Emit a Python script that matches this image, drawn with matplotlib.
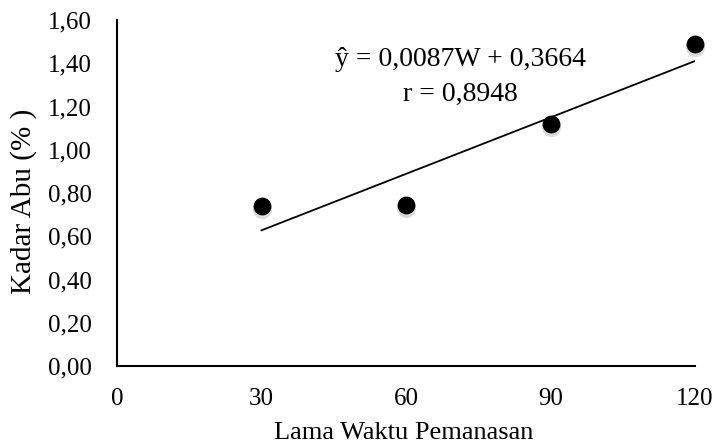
import matplotlib
matplotlib.use("Agg")
import matplotlib.pyplot as plt
import matplotlib.transforms as mtransforms
import numpy as np

plt.rcParams['font.family'] = ['Liberation Serif', 'DejaVu Serif']

# Heating time (minutes) and ash content (%)
waktu = [30, 60, 90, 120]
kadar_abu = [0.74, 0.745, 1.12, 1.49]

# Linear regression reported on the chart
slope = 0.0087
intercept = 0.3664
r_value = 0.8948

x_ticks = [0, 30, 60, 90, 120]
y_ticks = [0.0, 0.2, 0.4, 0.6, 0.8, 1.0, 1.2, 1.4, 1.6]

fig = plt.figure(figsize=(7.19, 4.48), dpi=100)
ax = fig.add_axes([117 / 719, 82 / 448, (695 - 117) / 719, (366 - 20) / 448])

# soft drop shadow under the markers
shadow = ax.transData + mtransforms.ScaledTranslation(0, -3 / 100, fig.dpi_scale_trans)
ax.scatter(waktu, kadar_abu, s=190, color='0.6', alpha=0.35, linewidths=0,
           transform=shadow, zorder=2, clip_on=False)
ax.scatter(waktu, kadar_abu, s=140, color='black', zorder=3, clip_on=False)

xl = np.array([waktu[0], waktu[-1]])
ax.plot(xl, slope * xl + intercept, color='black', linewidth=1.3, zorder=2)

eq = (f"ŷ = {slope:.4f}W + {intercept:.4f}".replace('.', ',')
      + "\n" + f"r = {r_value:.4f}".replace('.', ','))
ax.text(71.2, 1.337, eq, ha='center', va='center', fontsize=20, linespacing=1.48)

ax.set_xlim(0, 120)
ax.set_ylim(0, 1.6)
ax.set_xticks(x_ticks)
ax.set_xticklabels([str(t) for t in x_ticks])
ax.set_yticks(y_ticks)
ax.set_yticklabels([f"{t:.2f}".replace('.', ',') for t in y_ticks])
ax.tick_params(length=0, labelsize=18)
ax.tick_params(axis='y', pad=18)
ax.tick_params(axis='x', pad=16)

for side in ('top', 'right'):
    ax.spines[side].set_visible(False)
for side in ('left', 'bottom'):
    ax.spines[side].set_linewidth(1.5)

ax.set_xlabel("Lama Waktu Pemanasan", fontsize=19, va='center')
ax.xaxis.set_label_coords(0.4965, -0.194)
ax.set_ylabel("Kadar Abu (% )", fontsize=21, va='center')
ax.yaxis.set_label_coords(-0.161, 0.475)

fig.savefig("out.png", dpi=100)
